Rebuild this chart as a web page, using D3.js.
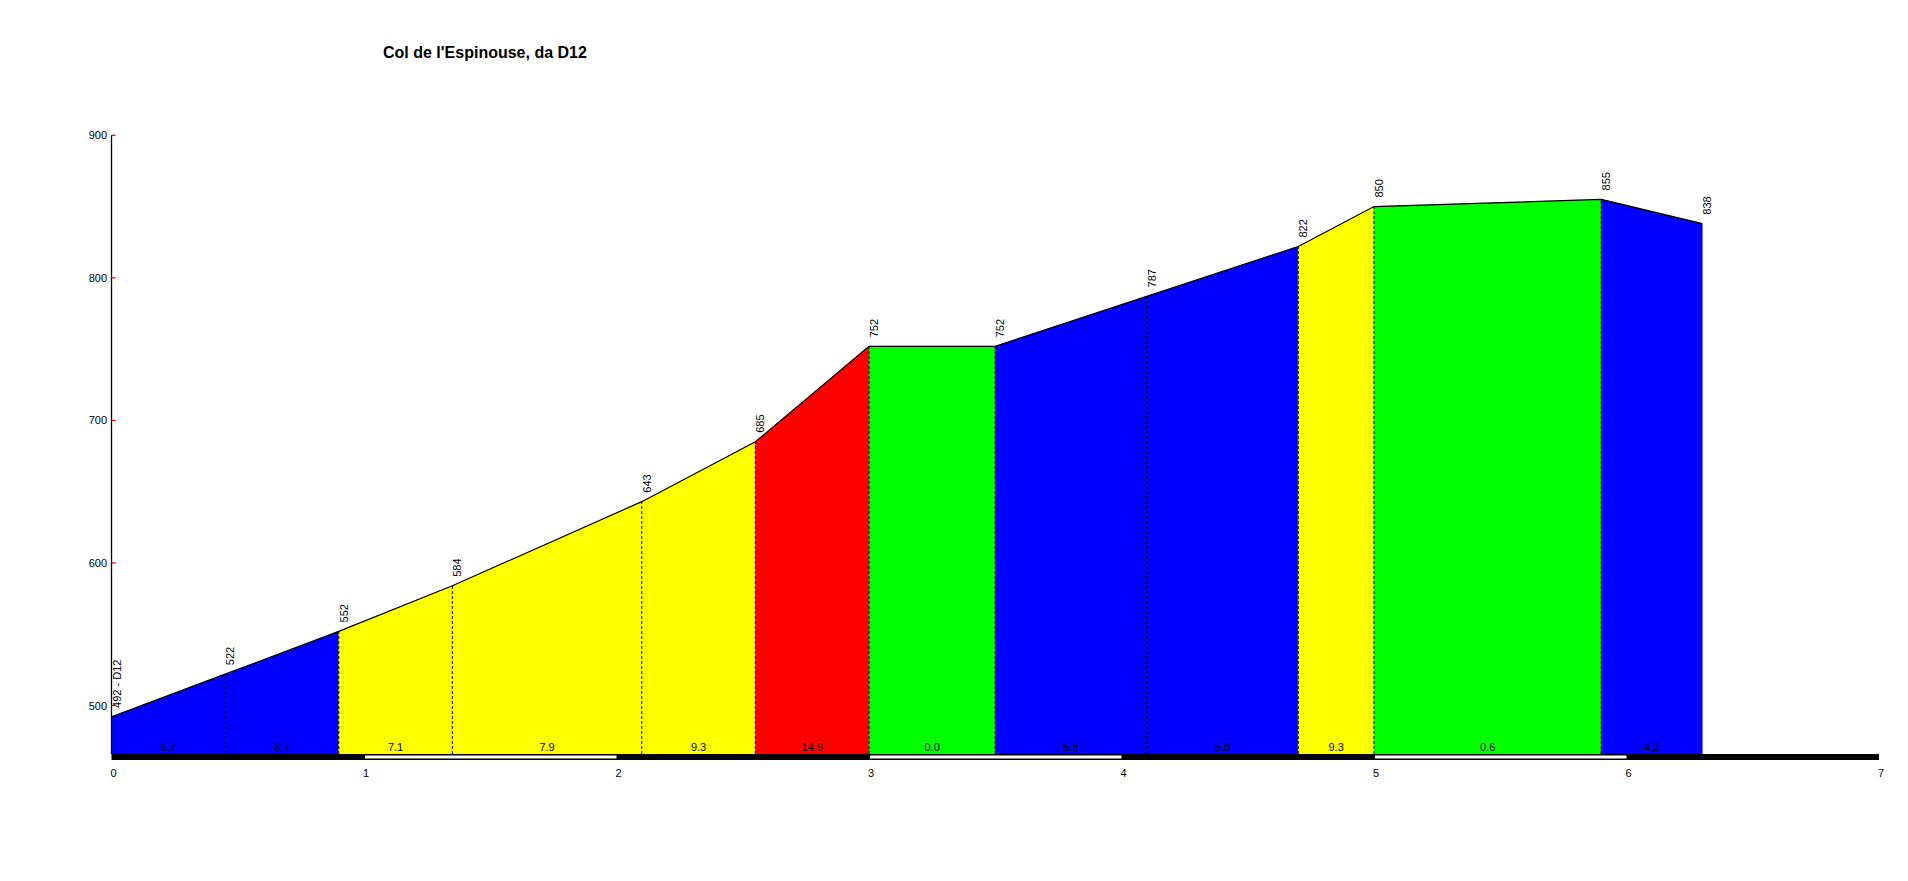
<!DOCTYPE html>
<html>
<head>
<meta charset="utf-8">
<script src="https://cdn.jsdelivr.net/npm/d3@7/dist/d3.min.js"></script>
<style>
  html, body { margin: 0; padding: 0; background: #ffffff; }
  svg { display: block; font-family: "Liberation Sans", Arial, sans-serif; }
</style>
</head>
<body>
<svg id="chart" width="1908" height="881"></svg>
<script>
const title = "Col de l'Espinouse, da D12";
const distances = [0, 0.45, 0.9, 1.35, 2.1, 2.55, 3.0, 3.5, 4.1, 4.7, 5.0, 5.9, 6.3];
const elevations = [492, 522, 552, 584, 643, 685, 752, 752, 787, 822, 850, 855, 838];
const pointLabels = ["492 - D12", "522", "552", "584", "643", "685", "752", "752", "787", "822", "850", "855", "838"];
const gradientLabels = ["6.7", "6.7", "7.1", "7.9", "9.3", "14.9", "0.0", "5.8", "5.8", "9.3", "0.6", "4.2"];
const segmentColors = ["#0000ff", "#0000ff", "#ffff00", "#ffff00", "#ffff00", "#ff0000", "#00ff00", "#0000ff", "#0000ff", "#ffff00", "#00ff00", "#0000ff"];
const yTicks = [500, 600, 700, 800, 900];
const xTicks = [0, 1, 2, 3, 4, 5, 6, 7];

const svg = d3.select("#chart");
const x = d3.scaleLinear().domain([0, 7]).range([111.5, 1879]);
const y = d3.scaleLinear().domain([466, 900]).range([754, 135.3]);
const base = y.domain()[0];

const points = distances.map((d, i) => ({ d, e: elevations[i], label: pointLabels[i] }));
const segments = d3.range(points.length - 1).map(i => ({
  a: points[i], b: points[i + 1], color: segmentColors[i], grad: gradientLabels[i]
}));

// title
svg.append("text")
  .attr("x", 383).attr("y", 58)
  .attr("font-size", 16).attr("font-weight", "bold").attr("fill", "#000")
  .text(title);

// coloured areas
const area = d3.area().x(p => x(p.d)).y0(y(base)).y1(p => y(p.e));
svg.append("g").selectAll("path").data(segments).join("path")
  .attr("d", s => area([s.a, s.b]))
  .attr("fill", s => s.color)
  .attr("stroke", s => s.color)
  .attr("stroke-width", 0.5);

// dashed verticals
svg.append("g").selectAll("line").data(points.slice(1, -1)).join("line")
  .attr("x1", p => x(p.d)).attr("x2", p => x(p.d))
  .attr("y1", y(base)).attr("y2", p => y(p.e))
  .attr("stroke", "#000").attr("stroke-width", 1).attr("stroke-dasharray", "3,2");

// profile line
svg.append("path")
  .datum(points)
  .attr("d", d3.line().x(p => x(p.d)).y(p => y(p.e)))
  .attr("fill", "none").attr("stroke", "#000").attr("stroke-width", 1.2);

// elevation labels
svg.append("g").selectAll("text").data(points).join("text")
  .attr("transform", p => `translate(${x(p.d) + 9},${y(p.e) - 9}) rotate(-90)`)
  .attr("font-size", 11).attr("fill", "#000")
  .text(p => p.label);

// gradient labels
svg.append("g").selectAll("text").data(segments).join("text")
  .attr("x", s => (x(s.a.d) + x(s.b.d)) / 2)
  .attr("y", 751)
  .attr("text-anchor", "middle")
  .attr("font-size", 11).attr("fill", "#000")
  .text(s => s.grad);

// km bar
const barG = svg.append("g");
barG.append("rect")
  .attr("x", x(0)).attr("y", 754)
  .attr("width", x(7) - x(0)).attr("height", 6)
  .attr("fill", "#000");
barG.selectAll("rect.w").data(xTicks.filter(k => k % 2 === 1)).join("rect")
  .attr("class", "w")
  .attr("x", k => x(k) + 1).attr("y", 755.5)
  .attr("width", k => x(k + 1) - x(k) - 1).attr("height", 3)
  .attr("fill", "#fff");

// x tick labels
svg.append("g").selectAll("text").data(xTicks).join("text")
  .attr("x", k => x(k) + 2)
  .attr("y", 777)
  .attr("text-anchor", "middle")
  .attr("font-size", 11).attr("fill", "#000")
  .text(k => k);

// y axis
svg.append("line")
  .attr("x1", x(0)).attr("x2", x(0))
  .attr("y1", y(900)).attr("y2", y(base))
  .attr("stroke", "#000").attr("stroke-width", 1.3);
svg.append("g").selectAll("line").data(yTicks).join("line")
  .attr("x1", x(0)).attr("x2", x(0) + 4)
  .attr("y1", t => y(t)).attr("y2", t => y(t))
  .attr("stroke", "#ff0000").attr("stroke-width", 1.3);
svg.append("g").selectAll("text").data(yTicks).join("text")
  .attr("x", 107).attr("y", t => y(t) + 4)
  .attr("text-anchor", "end")
  .attr("font-size", 11).attr("fill", "#000")
  .text(t => t);
</script>
</body>
</html>
